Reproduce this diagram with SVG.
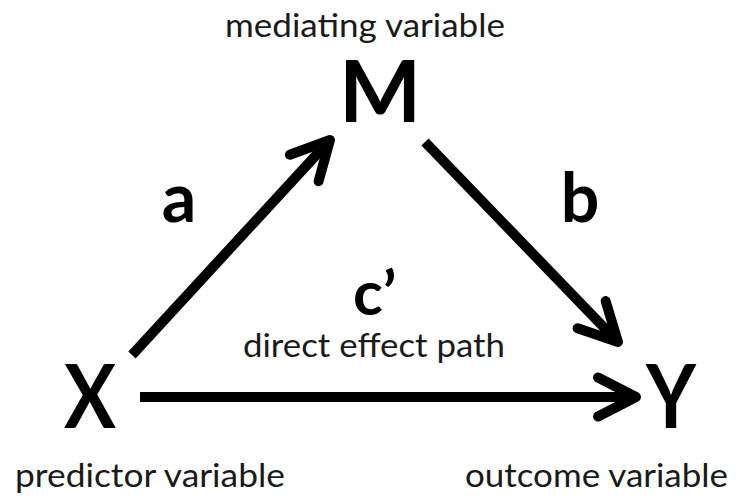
<svg xmlns="http://www.w3.org/2000/svg" width="736" height="497" viewBox="0 0 736 497">
  <style>
    .lbl { font-family: Lato, "Open Sans", "Liberation Sans", sans-serif; font-size: 33px; fill: #1a1a1a; }
    .big { font-family: Lato, "Open Sans", "Liberation Sans", sans-serif; font-weight: bold; fill: #000; }
    .conn { stroke: #000; stroke-width: 10; fill: none; stroke-linecap: butt; }
  </style>
  <defs>
    <marker id="chev" markerUnits="userSpaceOnUse" viewBox="-50 -30 60 60" markerWidth="60" markerHeight="60" refX="0" refY="0" orient="auto" overflow="visible">
      <path d="M-38,-19.5 L0,0 L-38,19.5" fill="none" stroke="#000" stroke-width="10" stroke-linecap="round" stroke-linejoin="round"/>
    </marker>
  </defs>
  <rect width="736" height="497" fill="#fff"/>

  <g id="connectors">
    <line id="path-a" class="conn" x1="132" y1="355" x2="330" y2="140" marker-end="url(#chev)"/>
    <line id="path-b" class="conn" x1="425" y1="142" x2="618" y2="342" marker-end="url(#chev)"/>
    <line id="path-c" class="conn" x1="140" y1="397" x2="636" y2="397" marker-end="url(#chev)"/>
    <text class="big" x="179" y="222" font-size="68" text-anchor="middle">a</text>
    <text class="big" x="580" y="222" font-size="68" text-anchor="middle">b</text>
    <text class="big" x="353" y="315" font-size="62">c’</text>
    <text class="lbl" x="243" y="357" textLength="262" lengthAdjust="spacingAndGlyphs">direct effect path</text>
  </g>

  <g id="node-M">
    <text class="lbl" x="225" y="37" textLength="280" lengthAdjust="spacingAndGlyphs">mediating variable</text>
    <text class="big" x="380" y="122" font-size="87" text-anchor="middle">M</text>
  </g>

  <g id="node-X">
    <text class="big" x="64" y="428" font-size="88" textLength="52" lengthAdjust="spacingAndGlyphs">X</text>
    <text class="lbl" x="15" y="487" textLength="270" lengthAdjust="spacingAndGlyphs">predictor variable</text>
  </g>

  <g id="node-Y">
    <text class="big" x="646" y="428" font-size="88" textLength="50" lengthAdjust="spacingAndGlyphs">Y</text>
    <text class="lbl" x="465" y="487" textLength="263" lengthAdjust="spacingAndGlyphs">outcome variable</text>
  </g>
</svg>
